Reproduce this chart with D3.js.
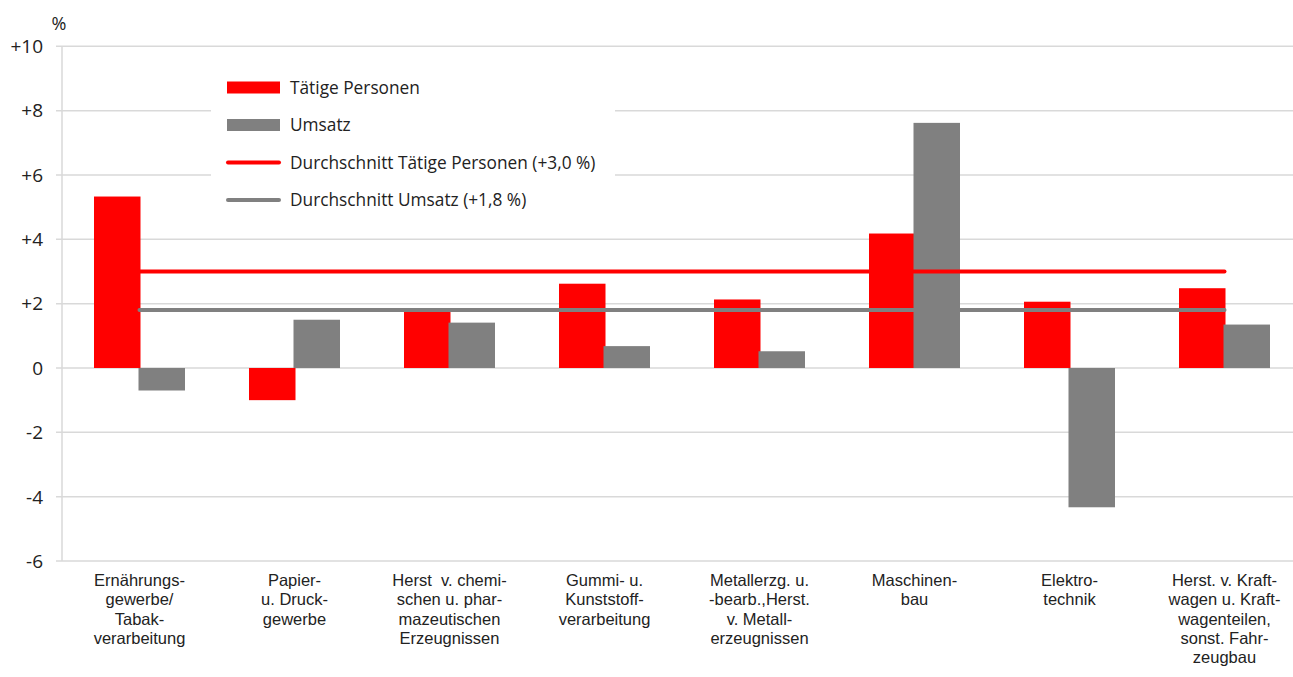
<!DOCTYPE html>
<html>
<head>
<meta charset="utf-8">
<script src="https://cdn.jsdelivr.net/npm/d3@7/dist/d3.min.js"></script>
<style>
  html, body { margin: 0; padding: 0; background: #fff; }
  svg { display: block; font-family: "Open Sans", "Noto Sans", sans-serif; }
  text { white-space: pre; }
</style>
</head>
<body>
<svg id="chart" width="1293" height="677"></svg>
<script>
const categories = [
  ["Ernährungs-", "gewerbe/", "Tabak-", "verarbeitung"],
  ["Papier-", "u. Druck-", "gewerbe"],
  ["Herst  v. chemi-", "schen u. phar-", "mazeutischen", "Erzeugnissen"],
  ["Gummi- u.", "Kunststoff-", "verarbeitung"],
  ["Metallerzg. u.", "-bearb.,Herst.", "v. Metall-", "erzeugnissen"],
  ["Maschinen-", "bau"],
  ["Elektro-", "technik"],
  ["Herst. v. Kraft-", "wagen u. Kraft-", "wagenteilen,", "sonst. Fahr-", "zeugbau"]
];
const taetigePersonen = [5.33, -1.0, 1.8, 2.62, 2.13, 4.18, 2.06, 2.48];
const umsatz = [-0.70, 1.50, 1.41, 0.68, 0.52, 7.62, -4.33, 1.35];
const avgTaetige = 3.0;
const avgUmsatz = 1.8;
const yTicks = [-6, -4, -2, 0, 2, 4, 6, 8, 10];
const yTickLabels = ["-6", "-4", "-2", "0", "+2", "+4", "+6", "+8", "+10"];
const legendLabels = ["Tätige Personen", "Umsatz", "Durchschnitt Tätige Personen (+3,0 %)", "Durchschnitt Umsatz (+1,8 %)"];

const RED = "#ff0000", GRAY = "#808080", GRID = "#d9d9d9", TXT = "#222";

const svg = d3.select("#chart");
const plotLeft = 62, plotRight = 1302, plotTop = 46.3, plotBottom = 561;

const x = d3.scaleBand().domain(d3.range(categories.length)).range([plotLeft, plotRight]);
const y = d3.scaleLinear().domain([-6, 10]).range([plotBottom, plotTop]);

// gridlines
svg.append("g").selectAll("line").data(yTicks).join("line")
  .attr("x1", plotLeft - 6).attr("x2", 1293)
  .attr("y1", d => y(d)).attr("y2", d => y(d))
  .attr("stroke", GRID).attr("stroke-width", 1.5);

// axis line
svg.append("line").attr("x1", plotLeft).attr("x2", plotLeft)
  .attr("y1", y(10)).attr("y2", y(-6)).attr("stroke", GRID).attr("stroke-width", 1.5);

// tick labels
svg.append("g").selectAll("text").data(yTicks).join("text")
  .attr("x", 43).attr("y", d => y(d)).attr("dy", "0.36em")
  .attr("text-anchor", "end").attr("font-size", 19).attr("fill", TXT)
  .text((d, i) => yTickLabels[i]);

svg.append("text").attr("x", 59).attr("y", 30).attr("text-anchor", "middle")
  .attr("font-size", 18).attr("fill", TXT).text("%");

// bars
const bw = 46.5;
const cx = i => x(i) + x.bandwidth() / 2;
svg.append("g").selectAll("rect").data(taetigePersonen).join("rect")
  .attr("x", (d, i) => cx(i) - bw + 1).attr("width", bw)
  .attr("y", d => y(Math.max(0, d))).attr("height", d => Math.abs(y(d) - y(0)))
  .attr("fill", RED);
svg.append("g").selectAll("rect").data(umsatz).join("rect")
  .attr("x", (d, i) => cx(i) - 1).attr("width", bw)
  .attr("y", d => y(Math.max(0, d))).attr("height", d => Math.abs(y(d) - y(0)))
  .attr("fill", GRAY);

// average lines
const line = d3.line().x(d => d[0]).y(d => d[1]);
const n = categories.length;
svg.append("path").attr("d", line([[cx(0), y(avgTaetige)], [cx(n - 1), y(avgTaetige)]]))
  .attr("stroke", RED).attr("stroke-width", 4).attr("stroke-linecap", "round").attr("fill", "none");
svg.append("path").attr("d", line([[cx(0), y(avgUmsatz)], [cx(n - 1), y(avgUmsatz)]]))
  .attr("stroke", GRAY).attr("stroke-width", 4).attr("stroke-linecap", "round").attr("fill", "none");

// legend
const lg = svg.append("g");
lg.append("rect").attr("x", 211).attr("y", 66).attr("width", 404).attr("height", 150).attr("fill", "#fff");
const rowsY = [87.5, 125, 162.5, 200];
legendLabels.forEach((t, i) => {
  if (i < 2) {
    lg.append("rect").attr("x", 227).attr("y", rowsY[i] - 6).attr("width", 53).attr("height", 12)
      .attr("fill", i === 0 ? RED : GRAY);
  } else {
    lg.append("line").attr("x1", 228).attr("x2", 279).attr("y1", rowsY[i]).attr("y2", rowsY[i])
      .attr("stroke", i === 2 ? RED : GRAY).attr("stroke-width", 4).attr("stroke-linecap", "round");
  }
  lg.append("text").attr("x", 290).attr("y", rowsY[i]).attr("dy", "0.36em")
    .attr("font-size", 17.3).attr("fill", TXT).text(t);
});

// category labels (each line its own text element)
const cl = svg.append("g").attr("font-family", "'Liberation Sans', Arial, sans-serif");
categories.forEach((lines, i) => {
  lines.forEach((s, j) => {
    cl.append("text").attr("text-anchor", "middle").attr("font-size", 16.5).attr("fill", TXT)
      .attr("x", cx(i)).attr("y", 586 + j * 19.3).text(s);
  });
});
</script>
</body>
</html>
